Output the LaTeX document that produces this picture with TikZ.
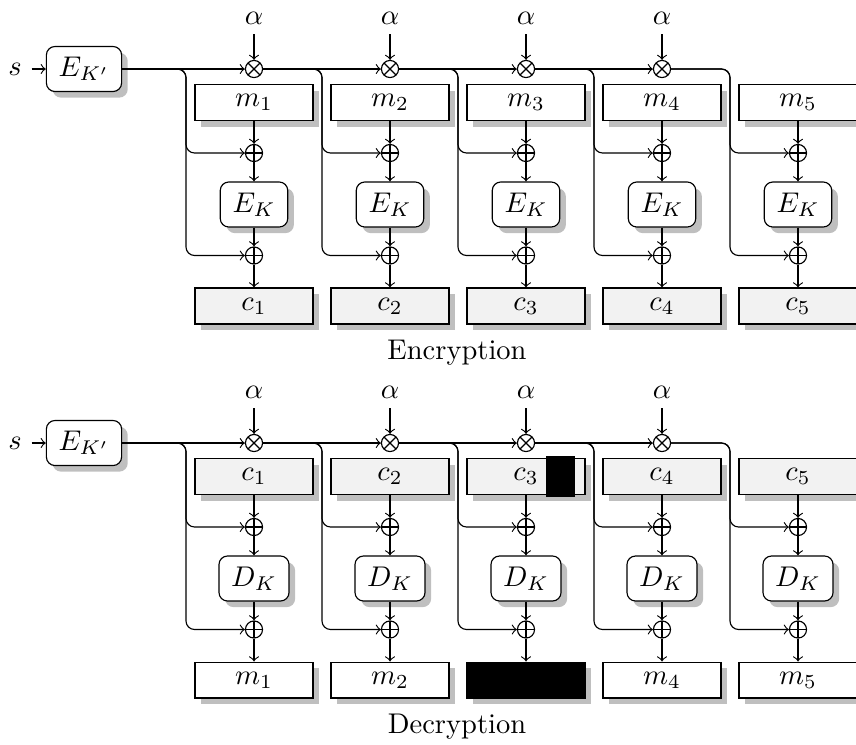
\documentclass[tikz,border=0pt]{standalone}
\usetikzlibrary{shadows}

\tikzset{
  block/.style={draw,fill=white,minimum width=41.4pt,minimum height=12.6pt,inner sep=0pt,drop shadow},
  cblock/.style={block,fill=gray!10},
  cipher/.style={draw,fill=white,rounded corners=3pt,inner xsep=4.3pt,minimum height=15.8pt,drop shadow},
  xorop/.style={circle,draw,fill=white,inner sep=0pt,minimum size=6pt,
    path picture={\draw (path picture bounding box.north) -- (path picture bounding box.south)
      (path picture bounding box.west) -- (path picture bounding box.east);}},
  mulop/.style={circle,draw,fill=white,inner sep=0pt,minimum size=6pt,
    path picture={\draw (path picture bounding box.north west) -- (path picture bounding box.south east)
      (path picture bounding box.north east) -- (path picture bounding box.south west);}},
  branch/.style={->,rounded corners=3pt}
}

\begin{document}
\begin{tikzpicture}[x=0.351pt,y=-0.351pt]
      \useasboundingbox (0,0) rectangle (856,744);

      % encryption
      \node (s)   at (15,69)  {$s$};
      \node[cipher] (ekp) at (84,69) {$E_{K'}$};

      \begin{scope}[every node/.style={}]
        \node (al1) at (254,18) {$\alpha$};
        \node (al2) at (390,18) {$\alpha$};
        \node (al3) at (526,18) {$\alpha$};
        \node (al4) at (662,18) {$\alpha$};
      \end{scope}

      \node[mulop] (mul1) at (254,69) {};
      \node[mulop] (mul2) at (390,69) {};
      \node[mulop] (mul3) at (526,69) {};
      \node[mulop] (mul4) at (662,69) {};

      \begin{scope}[every node/.style={block}]
        \node (m1) at (254,102.5) {$m_1$};
        \node (m2) at (390,102.5) {$m_2$};
        \node (m3) at (526,102.5) {$m_3$};
        \node (m4) at (662,102.5) {$m_4$};
        \node (m5) at (798,102.5) {$m_5$};
      \end{scope}

      \begin{scope}[every node/.style={xorop}]
        \node (x1) at (254,153) {}; \node (y1) at (254,255.5) {};
        \node (x2) at (390,153) {}; \node (y2) at (390,255.5) {};
        \node (x3) at (526,153) {}; \node (y3) at (526,255.5) {};
        \node (x4) at (662,153) {}; \node (y4) at (662,255.5) {};
        \node (x5) at (798,153) {}; \node (y5) at (798,255.5) {};
      \end{scope}

      \begin{scope}[every node/.style={cipher}]
        \node (ek1) at (254,204.5) {$E_K$};
        \node (ek2) at (390,204.5) {$E_K$};
        \node (ek3) at (526,204.5) {$E_K$};
        \node (ek4) at (662,204.5) {$E_K$};
        \node (ek5) at (798,204.5) {$E_K$};
      \end{scope}

      \begin{scope}[every node/.style={cblock}]
        \node (c1) at (254,306) {$c_1$};
        \node (c2) at (390,306) {$c_2$};
        \node (c3) at (526,306) {$c_3$};
        \node (c4) at (662,306) {$c_4$};
        \node (c5) at (798,306) {$c_5$};
      \end{scope}

      \node (enc) at (457,353) {Encryption};

      \begin{scope}[every edge/.style={draw,->}]
        \path (s) edge (ekp) (ekp) edge (mul1) (mul1) edge (mul2) (mul2) edge (mul3) (mul3) edge (mul4);
        \path (al1) edge (mul1) (al2) edge (mul2) (al3) edge (mul3) (al4) edge (mul4);
        \path (m1) edge (x1) (x1) edge (ek1) (ek1) edge (y1) (y1) edge (c1);
        \path (m2) edge (x2) (x2) edge (ek2) (ek2) edge (y2) (y2) edge (c2);
        \path (m3) edge (x3) (x3) edge (ek3) (ek3) edge (y3) (y3) edge (c3);
        \path (m4) edge (x4) (x4) edge (ek4) (ek4) edge (y4) (y4) edge (c4);
        \path (m5) edge (x5) (x5) edge (ek5) (ek5) edge (y5) (y5) edge (c5);
      \end{scope}

      \draw[branch] (ekp)  -| (186,153) -- (x1);
      \draw[branch] (ekp)  -| (186,255.5) -- (y1);
      \draw[branch] (mul1) -| (322,153) -- (x2);
      \draw[branch] (mul1) -| (322,255.5) -- (y2);
      \draw[branch] (mul2) -| (458,153) -- (x3);
      \draw[branch] (mul2) -| (458,255.5) -- (y3);
      \draw[branch] (mul3) -| (594,153) -- (x4);
      \draw[branch] (mul3) -| (594,255.5) -- (y4);
      \draw[branch] (mul4) -| (730,153) -- (x5);
      \draw[branch] (mul4) -| (730,255.5) -- (y5);

      % decryption
      \node (ds)   at (15,443)  {$s$};
      \node[cipher] (dekp) at (84,443) {$E_{K'}$};

      \node (dal1) at (254,392) {$\alpha$};
      \node (dal2) at (390,392) {$\alpha$};
      \node (dal3) at (526,392) {$\alpha$};
      \node (dal4) at (662,392) {$\alpha$};

      \node[mulop] (dmul1) at (254,443) {};
      \node[mulop] (dmul2) at (390,443) {};
      \node[mulop] (dmul3) at (526,443) {};
      \node[mulop] (dmul4) at (662,443) {};

      \begin{scope}[every node/.style={cblock}]
        \node (dc1) at (254,476.5) {$c_1$};
        \node (dc2) at (390,476.5) {$c_2$};
        \node (dc3) at (526,476.5) {$c_3$};
        \node (dc4) at (662,476.5) {$c_4$};
        \node (dc5) at (798,476.5) {$c_5$};
      \end{scope}
      \fill (546,456) rectangle (575,497);

      \begin{scope}[every node/.style={xorop}]
        \node (dx1) at (254,527) {}; \node (dy1) at (254,629.5) {};
        \node (dx2) at (390,527) {}; \node (dy2) at (390,629.5) {};
        \node (dx3) at (526,527) {}; \node (dy3) at (526,629.5) {};
        \node (dx4) at (662,527) {}; \node (dy4) at (662,629.5) {};
        \node (dx5) at (798,527) {}; \node (dy5) at (798,629.5) {};
      \end{scope}

      \begin{scope}[every node/.style={cipher}]
        \node (dk1) at (254,578.5) {$D_K$};
        \node (dk2) at (390,578.5) {$D_K$};
        \node (dk3) at (526,578.5) {$D_K$};
        \node (dk4) at (662,578.5) {$D_K$};
        \node (dk5) at (798,578.5) {$D_K$};
      \end{scope}

      \begin{scope}[every node/.style={block}]
        \node (dm1) at (254,680) {$m_1$};
        \node (dm2) at (390,680) {$m_2$};
        \node[fill=black] (dm3) at (526,680) {};
        \node (dm4) at (662,680) {$m_4$};
        \node (dm5) at (798,680) {$m_5$};
      \end{scope}

      \node (dec) at (457,727) {Decryption};

      \begin{scope}[every edge/.style={draw,->}]
        \path (ds) edge (dekp) (dekp) edge (dmul1) (dmul1) edge (dmul2) (dmul2) edge (dmul3) (dmul3) edge (dmul4);
        \path (dal1) edge (dmul1) (dal2) edge (dmul2) (dal3) edge (dmul3) (dal4) edge (dmul4);
        \path (dc1) edge (dx1) (dx1) edge (dk1) (dk1) edge (dy1) (dy1) edge (dm1);
        \path (dc2) edge (dx2) (dx2) edge (dk2) (dk2) edge (dy2) (dy2) edge (dm2);
        \path (dc3) edge (dx3) (dx3) edge (dk3) (dk3) edge (dy3) (dy3) edge (dm3);
        \path (dc4) edge (dx4) (dx4) edge (dk4) (dk4) edge (dy4) (dy4) edge (dm4);
        \path (dc5) edge (dx5) (dx5) edge (dk5) (dk5) edge (dy5) (dy5) edge (dm5);
      \end{scope}

      \draw[branch] (dekp)  -| (186,527) -- (dx1);
      \draw[branch] (dekp)  -| (186,629.5) -- (dy1);
      \draw[branch] (dmul1) -| (322,527) -- (dx2);
      \draw[branch] (dmul1) -| (322,629.5) -- (dy2);
      \draw[branch] (dmul2) -| (458,527) -- (dx3);
      \draw[branch] (dmul2) -| (458,629.5) -- (dy3);
      \draw[branch] (dmul3) -| (594,527) -- (dx4);
      \draw[branch] (dmul3) -| (594,629.5) -- (dy4);
      \draw[branch] (dmul4) -| (730,527) -- (dx5);
      \draw[branch] (dmul4) -| (730,629.5) -- (dy5);

\end{tikzpicture}
\end{document}
